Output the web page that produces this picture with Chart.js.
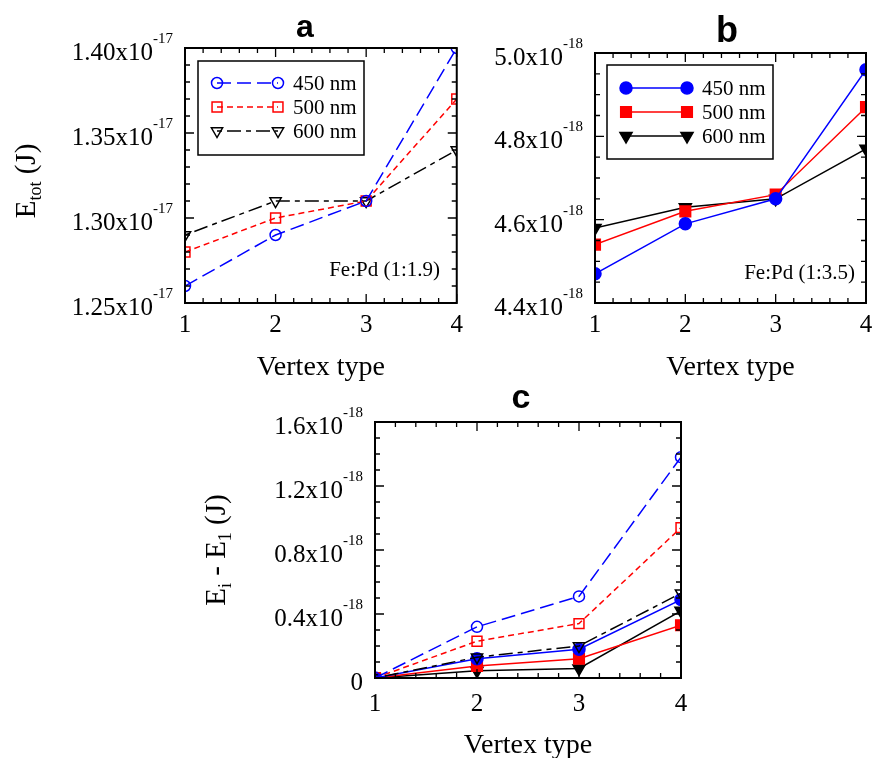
<!DOCTYPE html>
<html>
<head>
<meta charset="utf-8">
<script src="https://cdn.jsdelivr.net/npm/chart.js@4.4.0/dist/chart.umd.min.js"></script>
<style>
  body { margin: 0; background: #fff; width: 872px; height: 758px; position: relative; overflow: hidden; }
  canvas { position: absolute; }
</style>
</head>
<body>
<canvas id="chartA" width="470" height="390" style="left:0;top:0"></canvas>
<canvas id="chartB" width="420" height="390" style="left:470px;top:0"></canvas>
<canvas id="chartC" width="530" height="390" style="left:180px;top:380px"></canvas>
<script>
// data
const vertexTypes = [1, 2, 3, 4];
const xTickLabels = ['1', '2', '3', '4'];
const seriesNames = ['450 nm', '500 nm', '600 nm'];

// panel a, Fe:Pd (1:1.9), E_tot in J
const aE450 = [1.26e-17, 1.29e-17, 1.31e-17, 1.40e-17];
const aE500 = [1.28e-17, 1.30e-17, 1.31e-17, 1.37e-17];
const aE600 = [1.29e-17, 1.31e-17, 1.31e-17, 1.34e-17];
const aYTicks = [1.25e-17, 1.30e-17, 1.35e-17, 1.40e-17];
const aYTickLabels = ['1.25x10', '1.30x10', '1.35x10', '1.40x10'];
const aYTickExps = ['-17', '-17', '-17', '-17'];

// panel b, Fe:Pd (1:3.5)
const bE450 = [4.47e-18, 4.59e-18, 4.65e-18, 4.96e-18];
const bE500 = [4.54e-18, 4.62e-18, 4.66e-18, 4.87e-18];
const bE600 = [4.58e-18, 4.63e-18, 4.65e-18, 4.77e-18];
const bYTicks = [4.4e-18, 4.6e-18, 4.8e-18, 5.0e-18];
const bYTickLabels = ['4.4x10', '4.6x10', '4.8x10', '5.0x10'];
const bYTickExps = ['-18', '-18', '-18', '-18'];

// panel c, E_i - E_1 in J
const cOpen450 = [0, 0.32e-18, 0.51e-18, 1.38e-18];
const cOpen500 = [0, 0.23e-18, 0.34e-18, 0.94e-18];
const cOpen600 = [0, 0.13e-18, 0.20e-18, 0.53e-18];
const cFill450 = [0, 0.12e-18, 0.18e-18, 0.49e-18];
const cFill500 = [0, 0.075e-18, 0.12e-18, 0.33e-18];
const cFill600 = [0, 0.045e-18, 0.06e-18, 0.42e-18];
const cYTicks = [0, 0.4e-18, 0.8e-18, 1.2e-18, 1.6e-18];
const cYTickLabels = ['0', '0.4x10', '0.8x10', '1.2x10', '1.6x10'];
const cYTickExps = ['', '-18', '-18', '-18', '-18'];

const SERIF = '"Liberation Serif", "Times New Roman", serif';
const BLUE = '#0000ff', RED = '#ff0000', BLACK = '#000000';

const LONG_DASH = [14, 6];
const SHORT_DASH = [6, 4];
const DASH_DOT = [5, 5, 14, 5];

function series(name, values, color, dash, style, radius, filled) {
  return {
    label: name,
    data: vertexTypes.map((x, i) => ({ x: x, y: values[i] })),
    showLine: true,
    borderColor: color,
    borderWidth: 1.5,
    borderDash: dash,
    pointStyle: style,
    pointRotation: style === 'triangle' ? 180 : 0,
    pointRadius: radius,
    pointHoverRadius: radius,
    pointBorderWidth: 1.5,
    pointBorderColor: color,
    pointBackgroundColor: filled ? color : 'rgba(0,0,0,0)',
    clip: 0
  };
}

function drawMarker(ctx, ds, x, y) {
  const r = ds.pointRadius;
  ctx.save();
  ctx.setLineDash([]);
  ctx.beginPath();
  if (ds.pointStyle === 'circle') {
    ctx.arc(x, y, r, 0, Math.PI * 2);
  } else if (ds.pointStyle === 'rect') {
    const s = r * Math.SQRT1_2;
    ctx.rect(x - s, y - s, 2 * s, 2 * s);
  } else {
    ctx.moveTo(x, y + r);
    ctx.lineTo(x - r * 0.866, y - r * 0.5);
    ctx.lineTo(x + r * 0.866, y - r * 0.5);
    ctx.closePath();
  }
  ctx.fillStyle = ds.pointBackgroundColor;
  ctx.fill();
  ctx.strokeStyle = ds.borderColor;
  ctx.lineWidth = ds.pointBorderWidth;
  ctx.stroke();
  ctx.restore();
}

function drawParts(ctx, parts, x, y) {
  // parts drawn left to right in current frame, baseline at y
  let total = 0;
  parts.forEach(p => { ctx.font = p.size + 'px ' + SERIF; total += ctx.measureText(p.t).width; });
  let cx = x - total / 2;
  ctx.textAlign = 'left';
  ctx.textBaseline = 'alphabetic';
  parts.forEach(p => {
    ctx.font = p.size + 'px ' + SERIF;
    ctx.fillText(p.t, cx, y + (p.dy || 0));
    cx += ctx.measureText(p.t).width;
  });
}

function makeDecor(cfg) {
  return {
    id: 'decor',
    afterDatasetsDraw(chart) {
      const ctx = chart.ctx, a = chart.chartArea;
      const xs = chart.scales.x, ys = chart.scales.y;
      ctx.save();
      ctx.strokeStyle = '#000';
      ctx.fillStyle = '#000';

      // inward tick marks on all four sides
      ctx.lineWidth = 1.3;
      ctx.beginPath();
      const nx = Math.round((xs.max - xs.min) / cfg.xMinor);
      for (let i = 0; i <= nx; i++) {
        const px = xs.getPixelForValue(xs.min + i * cfg.xMinor);
        const len = i % cfg.xMajorEvery === 0 ? 9 : 5;
        ctx.moveTo(px, a.bottom); ctx.lineTo(px, a.bottom - len);
        ctx.moveTo(px, a.top); ctx.lineTo(px, a.top + len);
      }
      const ny = Math.round((ys.max - ys.min) / cfg.yMinor);
      for (let i = 0; i <= ny; i++) {
        const py = ys.getPixelForValue(ys.min + i * cfg.yMinor);
        const len = i % cfg.yMajorEvery === 0 ? 9 : 5;
        ctx.moveTo(a.left, py); ctx.lineTo(a.left + len, py);
        ctx.moveTo(a.right, py); ctx.lineTo(a.right - len, py);
      }
      ctx.stroke();
      ctx.lineWidth = 2;
      ctx.strokeRect(a.left, a.top, a.right - a.left, a.bottom - a.top);

      // y tick labels with superscript exponent
      cfg.yTicks.forEach((v, i) => {
        const py = ys.getPixelForValue(v);
        let x = a.left - 12;
        ctx.textAlign = 'right';
        ctx.textBaseline = 'alphabetic';
        const exp = cfg.yExps[i];
        if (exp) {
          ctx.font = '15px ' + SERIF;
          ctx.fillText(exp, x, py - 5);
          x -= ctx.measureText(exp).width;
        }
        ctx.font = '25px ' + SERIF;
        ctx.fillText(cfg.yLabels[i], x, py + 12);
      });

      // panel letter
      ctx.font = 'bold ' + cfg.letter.size + 'px "Liberation Sans", Arial, sans-serif';
      ctx.textAlign = 'center';
      ctx.textBaseline = 'alphabetic';
      ctx.fillText(cfg.letter.t, cfg.letter.x, cfg.letter.y);

      // rotated y title
      if (cfg.yTitle) {
        ctx.save();
        ctx.translate(cfg.yTitle.x, cfg.yTitle.y);
        ctx.rotate(-Math.PI / 2);
        drawParts(ctx, cfg.yTitle.parts, 0, 0);
        ctx.restore();
      }

      // legend box
      if (cfg.legend) {
        const L = cfg.legend;
        ctx.lineWidth = 1.5;
        ctx.strokeStyle = '#000';
        ctx.strokeRect(L.box[0], L.box[1], L.box[2] - L.box[0], L.box[3] - L.box[1]);
        chart.data.datasets.forEach((ds, i) => {
          const y = L.rows[i];
          ctx.save();
          ctx.strokeStyle = ds.borderColor;
          ctx.lineWidth = ds.borderWidth;
          ctx.setLineDash(ds.borderDash || []);
          ctx.beginPath();
          ctx.moveTo(L.line[0], y);
          ctx.lineTo(L.line[1], y);
          ctx.stroke();
          ctx.restore();
          drawMarker(ctx, ds, L.line[0], y);
          drawMarker(ctx, ds, L.line[1], y);
          ctx.fillStyle = '#000';
          ctx.font = '21px ' + SERIF;
          ctx.textAlign = 'left';
          ctx.textBaseline = 'middle';
          ctx.fillText(ds.label, L.textX, y + 1);
        });
      }

      // composition note
      if (cfg.note) {
        ctx.fillStyle = '#000';
        ctx.font = '21px ' + SERIF;
        ctx.textAlign = 'right';
        ctx.textBaseline = 'alphabetic';
        ctx.fillText(cfg.note.t, cfg.note.x, cfg.note.y);
      }
      ctx.restore();
    }
  };
}

function makeChart(id, datasets, o) {
  return new Chart(document.getElementById(id), {
    type: 'scatter',
    data: { datasets: datasets },
    options: {
      responsive: false,
      animation: false,
      events: [],
      layout: { padding: { top: o.top, right: o.right, bottom: 0, left: 0 } },
      plugins: { legend: { display: false }, tooltip: { enabled: false }, title: { display: false } },
      scales: {
        x: {
          type: 'linear',
          min: 1, max: 4,
          grid: { display: false, drawTicks: false },
          border: { display: false },
          afterBuildTicks: s => { s.ticks = vertexTypes.map(v => ({ value: v })); },
          afterFit: s => { s.height = o.xHeight; },
          ticks: {
            padding: o.tickPad,
            color: '#000',
            font: { family: SERIF, size: 25 },
            maxRotation: 0,
            callback: (v) => xTickLabels[vertexTypes.indexOf(v)]
          },
          title: {
            display: true,
            text: 'Vertex type',
            color: '#000',
            font: { family: SERIF, size: 28 },
            padding: { top: 0, bottom: o.titlePad }
          }
        },
        y: {
          type: 'linear',
          min: o.yMin, max: o.yMax,
          grid: { display: false },
          border: { display: false },
          ticks: { display: false },
          afterFit: s => { s.width = o.left; }
        }
      }
    },
    plugins: [makeDecor(o.decor)]
  });
}

makeChart('chartA', [
  series(seriesNames[0], aE450, BLUE, LONG_DASH, 'circle', 5.5, false),
  series(seriesNames[1], aE500, RED, SHORT_DASH, 'rect', 7, false),
  series(seriesNames[2], aE600, BLACK, DASH_DOT, 'triangle', 6.5, false)
], {
  top: 48, right: 13, left: 185, xHeight: 87, tickPad: 7, titlePad: 6,
  yMin: 1.25e-17, yMax: 1.40e-17,
  decor: {
    xMinor: 0.2, xMajorEvery: 5, yMinor: 0.01e-17, yMajorEvery: 5,
    yTicks: aYTicks, yLabels: aYTickLabels, yExps: aYTickExps,
    letter: { t: 'a', size: 32, x: 305, y: 37 },
    yTitle: { x: 35, y: 181, parts: [{ t: 'E', size: 29 }, { t: 'tot', size: 18, dy: 6 }, { t: ' (J)', size: 29 }] },
    legend: { box: [198, 61, 364, 155], rows: [83, 107, 131], line: [217, 278], textX: 293 },
    note: { t: 'Fe:Pd (1:1.9)', x: 440, y: 276 }
  }
});

makeChart('chartB', [
  series(seriesNames[0], bE450, BLUE, [], 'circle', 6, true),
  series(seriesNames[1], bE500, RED, [], 'rect', 7.5, true),
  series(seriesNames[2], bE600, BLACK, [], 'triangle', 7, true)
], {
  top: 53, right: 24, left: 125, xHeight: 87, tickPad: 7, titlePad: 6,
  yMin: 4.4e-18, yMax: 5.0e-18,
  decor: {
    xMinor: 0.2, xMajorEvery: 5, yMinor: 0.05e-18, yMajorEvery: 4,
    yTicks: bYTicks, yLabels: bYTickLabels, yExps: bYTickExps,
    letter: { t: 'b', size: 36, x: 257, y: 42 },
    legend: { box: [137, 65, 303, 159], rows: [88, 112, 136], line: [156, 217], textX: 232 },
    note: { t: 'Fe:Pd (1:3.5)', x: 385, y: 279 }
  }
});

makeChart('chartC', [
  series(seriesNames[0], cOpen450, BLUE, LONG_DASH, 'circle', 5.5, false),
  series(seriesNames[1], cOpen500, RED, SHORT_DASH, 'rect', 7, false),
  series(seriesNames[2], cOpen600, BLACK, DASH_DOT, 'triangle', 6.5, false),
  series(seriesNames[0], cFill450, BLUE, [], 'circle', 6, true),
  series(seriesNames[1], cFill500, RED, [], 'rect', 7.5, true),
  series(seriesNames[2], cFill600, BLACK, [], 'triangle', 7, true)
], {
  top: 42, right: 29, left: 195, xHeight: 92, tickPad: 11, titlePad: 8,
  yMin: 0, yMax: 1.6e-18,
  decor: {
    xMinor: 0.2, xMajorEvery: 5, yMinor: 0.1e-18, yMajorEvery: 4,
    yTicks: cYTicks, yLabels: cYTickLabels, yExps: cYTickExps,
    letter: { t: 'c', size: 34, x: 341, y: 28 },
    yTitle: { x: 45, y: 170, parts: [{ t: 'E', size: 29 }, { t: 'i', size: 18, dy: 6 }, { t: ' - E', size: 29 }, { t: '1', size: 18, dy: 6 }, { t: ' (J)', size: 29 }] }
  }
});
</script>
</body>
</html>
